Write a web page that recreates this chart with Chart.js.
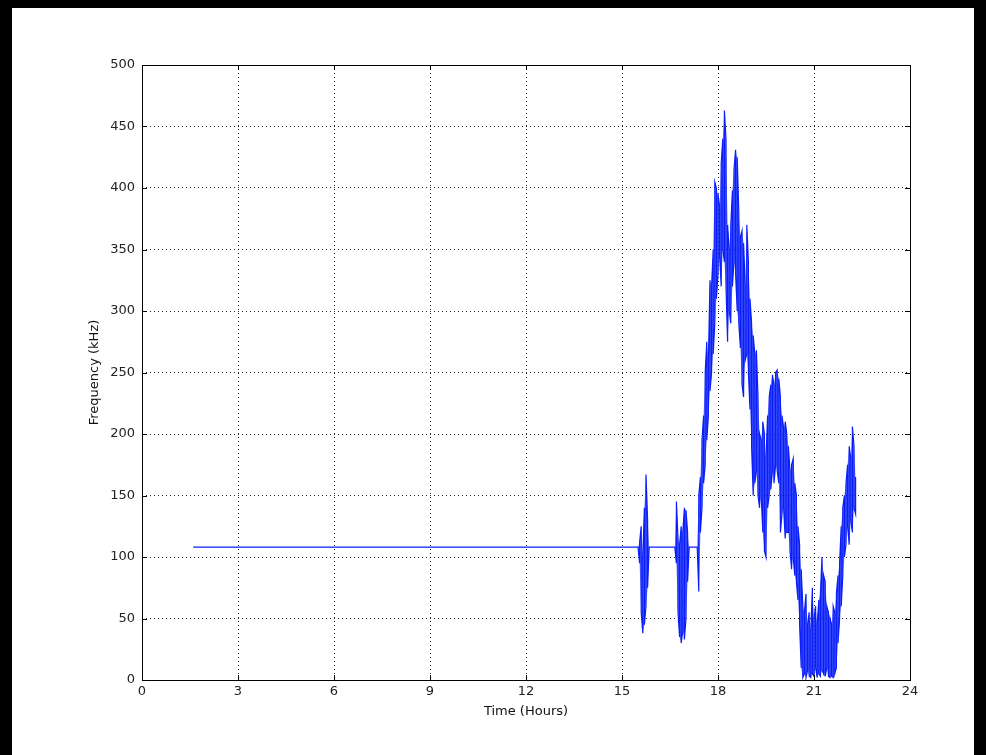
<!DOCTYPE html>
<html>
<head>
<meta charset="utf-8">
<title>Frequency over time</title>
<script src="https://cdn.jsdelivr.net/npm/chart.js@4"></script>
<style>
  html, body { margin: 0; padding: 0; background: #000; }
  #sheet { position: absolute; left: 12px; top: 8px; width: 962px; height: 747px; background: #fff; }
  canvas { display: block; }
</style>
</head>
<body>
<div id="sheet"><canvas id="freqChart" width="962" height="747"></canvas></div>
<script>
// sample times (hours) with the min / max frequency seen around each one (kHz)
const hours = [
  1.6, 15.5,
  15.55, 15.6, 15.65, 15.7, 15.75, 15.8, 15.85,
  16.65, 16.7, 16.75, 16.8, 16.85, 16.9, 16.95, 17.0, 17.05, 17.1,
  17.35, 17.4, 17.45, 17.5, 17.55, 17.6, 17.65, 17.7, 17.75, 17.8, 17.85,
  17.9, 17.95, 18.0, 18.05, 18.1, 18.15, 18.2, 18.25, 18.3, 18.35,
  18.4, 18.45, 18.5, 18.55, 18.6, 18.65, 18.7, 18.75, 18.8, 18.85,
  18.9, 18.95, 19.0, 19.05, 19.1, 19.15, 19.2, 19.25, 19.3, 19.35,
  19.4, 19.45, 19.5, 19.55, 19.6, 19.65, 19.7, 19.75, 19.8, 19.85,
  19.9, 19.95, 20.0, 20.05, 20.1, 20.15, 20.2, 20.25, 20.3, 20.35,
  20.4, 20.45, 20.5, 20.55, 20.6, 20.65, 20.7, 20.75, 20.8, 20.85,
  20.9, 20.95, 21.0, 21.05, 21.1, 21.15, 21.2, 21.25, 21.3, 21.35,
  21.4, 21.45, 21.5, 21.55, 21.6, 21.65, 21.7, 21.75, 21.8, 21.85,
  21.9, 21.95, 22.0, 22.05, 22.1, 22.15, 22.2, 22.25, 22.3
];
const lowKhz = [
  108, 108,
  95, 55, 38, 45, 60, 75, 108,
  108, 95, 55, 35, 30, 40, 33, 50, 80, 108,
  108, 72, 120, 140, 160, 175, 195, 215, 235, 250, 265,
  290, 310, 330, 345, 320, 350, 340, 320, 275, 300,
  290, 320, 340, 330, 300, 290, 270, 240, 230, 260,
  265, 250, 220, 190, 150, 160, 170, 150, 140, 150,
  120, 105, 100, 140, 150, 155, 170, 160, 175, 170,
  160, 120, 135, 140, 115, 120, 120, 105, 90, 100,
  85, 80, 65, 45, 10, 2, 5, 2, 8, 3,
  2, 5, 3, 10, 2, 5, 3, 8, 5, 3,
  10, 3, 2, 3, 2, 5, 10, 30, 50, 60,
  85, 100, 110, 125, 110, 130, 120, 140, 135
];
const highKhz = [
  108, 108,
  112, 125, 100, 140, 167, 130, 108,
  108, 145, 115, 110, 125, 120, 140, 138, 120, 108,
  108, 150, 165, 195, 215, 250, 275, 260, 325, 320, 350,
  405, 400, 395, 385, 420, 440, 463, 440, 370, 350,
  370, 398, 415, 431, 425, 380, 360, 365, 355, 320,
  370, 340, 310, 290, 280, 265, 268, 230, 200, 195,
  210, 200, 180, 215, 230, 240, 248, 240, 250, 252,
  245, 230, 215, 205, 210, 200, 190, 170, 175, 180,
  160, 150, 125, 110, 90, 60, 55, 70, 45, 55,
  40, 75, 50, 60, 45, 65, 70, 100, 85, 80,
  60, 55, 50, 45, 60, 55, 70, 85, 95, 125,
  140, 150, 160, 175, 190, 180, 206, 190, 165
];
const xTicks = [0, 3, 6, 9, 12, 15, 18, 21, 24];
const yTicks = [0, 50, 100, 150, 200, 250, 300, 350, 400, 450, 500];

// zig-zag between min and max at each time so the noisy band fills in
const points = [];
hours.forEach((t, i) => {
  const lo = { x: t, y: lowKhz[i] };
  const hi = { x: t, y: highKhz[i] };
  if (i % 2 === 0) points.push(lo, hi); else points.push(hi, lo);
});
const lowLine = hours.map((t, i) => ({ x: t, y: lowKhz[i] }));
const highLine = hours.map((t, i) => ({ x: t, y: highKhz[i] }));

const labelFont = { family: 'DejaVu Sans', size: 13 };
const blue = 'rgb(10, 30, 250)';

// box around the plot plus short inward tick marks on every side
const frameTicks = {
  id: 'frameTicks',
  afterDraw(chart) {
    const { ctx, chartArea: a, scales } = chart;
    const len = 5;
    ctx.save();
    ctx.strokeStyle = '#000';
    ctx.lineWidth = 1;
    ctx.beginPath();
    xTicks.forEach(v => {
      const px = Math.round(scales.x.getPixelForValue(v)) + 0.5;
      ctx.moveTo(px, a.bottom); ctx.lineTo(px, a.bottom - len);
      ctx.moveTo(px, a.top); ctx.lineTo(px, a.top + len);
    });
    yTicks.forEach(v => {
      const py = Math.round(scales.y.getPixelForValue(v)) + 0.5;
      ctx.moveTo(a.left, py); ctx.lineTo(a.left + len, py);
      ctx.moveTo(a.right, py); ctx.lineTo(a.right - len, py);
    });
    ctx.stroke();
    ctx.strokeRect(Math.round(a.left) + 0.5, Math.round(a.top) + 0.5,
                   Math.round(a.right - a.left), Math.round(a.bottom - a.top));
    ctx.restore();
  }
};

new Chart(document.getElementById('freqChart'), {
  type: 'line',
  data: {
    datasets: [
      {
        // lower edge of the band (invisible, used as fill target)
        data: lowLine,
        borderWidth: 0,
        borderColor: 'rgba(0,0,0,0)',
        pointRadius: 0,
        tension: 0,
        fill: false,
        order: 3
      },
      {
        // upper edge, shaded down to the lower edge
        data: highLine,
        borderWidth: 0,
        borderColor: 'rgba(0,0,0,0)',
        backgroundColor: 'rgba(10, 30, 250, 0.6)',
        pointRadius: 0,
        tension: 0,
        fill: '-1',
        order: 2
      },
      {
        data: points,
        borderColor: blue,
        borderWidth: 1.2,
        pointRadius: 0,
        tension: 0,
        fill: false,
        order: 1
      }
    ]
  },
  options: {
    responsive: false,
    animation: false,
    devicePixelRatio: 1,
    layout: { padding: { left: 0, top: 57, right: 64, bottom: 25 } },
    plugins: { legend: { display: false }, tooltip: { enabled: false } },
    scales: {
      x: {
        type: 'linear',
        min: 0,
        max: 24,
        afterFit(scale) { scale.height = 50; },
        afterBuildTicks(scale) { scale.ticks = xTicks.map(v => ({ value: v })); },
        ticks: { font: labelFont, color: '#222', padding: 4, maxRotation: 0 },
        grid: { color: 'rgba(0,0,0,0.85)', drawTicks: false },
        border: { display: false, dash: [1, 3] },
        title: { display: true, text: 'Time (Hours)', font: labelFont, color: '#111', padding: { top: 0, bottom: 11 } }
      },
      y: {
        type: 'linear',
        min: 0,
        max: 500,
        afterFit(scale) { scale.width = 130; },
        afterBuildTicks(scale) { scale.ticks = yTicks.map(v => ({ value: v })); },
        ticks: { font: labelFont, color: '#222', padding: 7 },
        grid: { color: 'rgba(0,0,0,0.85)', drawTicks: false },
        border: { display: false, dash: [1, 3] },
        title: { display: true, text: 'Frequency (kHz)', font: labelFont, color: '#111', padding: { top: 75, bottom: 0 } }
      }
    }
  },
  plugins: [frameTicks]
});
</script>
</body>
</html>
